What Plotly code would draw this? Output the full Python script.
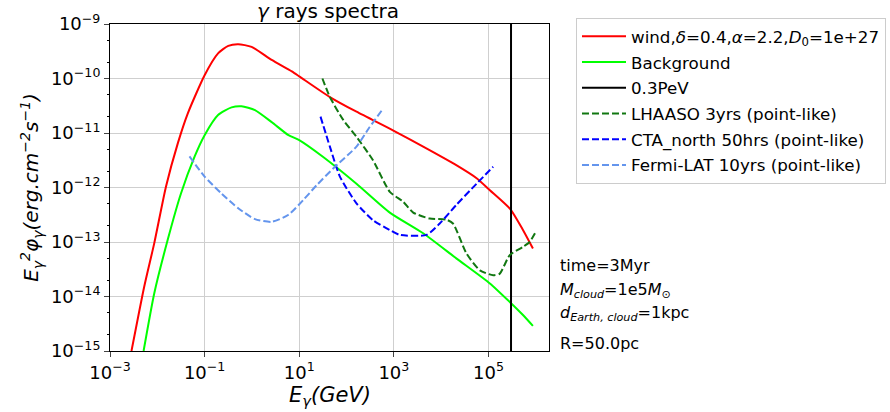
import plotly.graph_objects as go

# log10(E/GeV), log10(E^2 phi)
wind_logE = [-2.546, -2.277, -2.064, -1.816, -1.567, -1.355, -1.0, -0.716, -0.50, -0.29, -0.007, 0.418, 0.844,
             1.0, 1.648, 2.211, 3.0, 3.62, 4.32, 4.75, 5.03, 5.465, 5.73, 5.94]
wind_logF = [-15.0, -13.82, -13.02, -11.98, -11.19, -10.64, -9.94, -9.54, -9.40, -9.37, -9.42, -9.66, -9.87,
             -9.96, -10.34, -10.61, -10.96, -11.25, -11.59, -11.83, -12.05, -12.40, -12.78, -13.12]

bkg_logE = [-2.29, -2.064, -1.78, -1.50, -1.21, -1.0, -0.716, -0.43, -0.22, 0.064, 0.418, 0.773, 1.0,
            1.507, 2.21, 2.915, 3.62, 4.32, 5.03, 5.45, 5.73, 5.94]
bkg_logF = [-15.0, -13.94, -12.96, -12.11, -11.43, -11.04, -10.67, -10.53, -10.51, -10.58, -10.80, -11.04, -11.13,
            -11.44, -11.93, -12.46, -12.84, -13.30, -13.76, -14.10, -14.34, -14.54]

fermi_logE = [-1.32, -1.0, -0.645, -0.29, 0.064, 0.418, 0.773, 1.085, 1.366, 1.718, 2.21, 2.49, 2.775]
fermi_logF = [-11.43, -11.80, -12.11, -12.38, -12.58, -12.63, -12.50, -12.23, -11.96, -11.65, -11.25, -10.89, -10.55]

cta_logE = [1.45, 1.648, 1.86, 2.21, 2.56, 2.915, 3.127, 3.69, 3.97, 4.32, 4.75, 5.10]
cta_logF = [-10.70, -11.25, -11.80, -12.29, -12.60, -12.78, -12.87, -12.87, -12.66, -12.32, -11.93, -11.62]

lhaaso_logE = [1.49, 1.648, 1.93, 2.21, 2.56, 2.915, 3.197, 3.41, 3.76, 4.11, 4.25, 4.535, 4.82, 5.10, 5.24,
               5.45, 5.73, 5.87, 6.01]
lhaaso_logF = [-10.0, -10.34, -10.76, -11.07, -11.50, -12.08, -12.26, -12.46, -12.57, -12.59, -12.66, -13.21,
               -13.52, -13.61, -13.58, -13.24, -13.09, -13.0, -12.80]

cut_E = [3e5, 3e5]
cut_F = [1e-15, 1e-9]

x_tick_exp = [-3, -1, 1, 3, 5]
y_tick_exp = [-15, -14, -13, -12, -11, -10, -9]

info_lines = ["time=3Myr", "<i>M<sub>cloud</sub></i>=1e5<i>M</i><sub>⊙</sub>",
              "<i>d<sub>Earth, cloud</sub></i>=1kpc", "R=50.0pc"]
info_ypx = [265, 290, 313, 343]


def p(v):
    return [10 ** a for a in v]


def lab(e):
    return "10<sup>" + ("−" + str(-e) if e < 0 else str(e)) + "</sup>"


fig = go.Figure()
series = [
    (wind_logE, wind_logF, "red", "wind,<i>δ</i>=0.4,<i>α</i>=2.2,<i>D</i><sub>0</sub>=1e+27"),
    (bkg_logE, bkg_logF, "#00ff00", "Background"),
]
for i, (xe, ye, c, n) in enumerate(series):
    fig.add_trace(go.Scatter(x=p(xe), y=p(ye), mode="lines",
                             line=dict(color=c, width=2, shape="spline", smoothing=0.6),
                             name=n, legendgroup=f"g{i}"))
fig.add_trace(go.Scatter(x=cut_E, y=cut_F, mode="lines", line=dict(color="black", width=2), name="0.3PeV",
                         legendgroup="g2"))
dashed = [
    (lhaaso_logE, lhaaso_logF, "#117711", "LHAASO 3yrs (point-like)"),
    (cta_logE, cta_logF, "#0000ff", "CTA_north 50hrs (point-like)"),
    (fermi_logE, fermi_logF, "#6495ed", "Fermi-LAT 10yrs (point-like)"),
]
for i, (xe, ye, c, n) in enumerate(dashed):
    fig.add_trace(go.Scatter(x=p(xe), y=p(ye), mode="lines",
                             line=dict(color=c, width=2, dash="7px,3px", shape="spline", smoothing=0.6),
                             name=n, legendgroup=f"g{i + 3}"))

W, H = 890, 412
px_left, px_right, px_top, px_bot = 110, 549, 24, 351   # plot box in page pixels
L, T = px_left, px_top
pw, ph = px_right - px_left, px_bot - px_top
R, B = W - L - pw, H - T - ph

for txt, ypx in zip(info_lines, info_ypx):
    fig.add_annotation(text=txt, xref="paper", yref="paper", x=(558 - px_left) / pw, y=(px_bot - ypx) / ph,
                       xanchor="left", yanchor="middle", showarrow=False, font=dict(size=16, color="black"))

fig.add_annotation(text="<i>E<sub>γ</sub>(GeV)</i>", xref="paper", yref="paper", x=(330 - px_left) / pw,
                   y=-(396 - px_bot) / ph, xanchor="center", yanchor="middle", showarrow=False,
                   font=dict(size=21, color="black"))
fig.add_annotation(text="<i>γ</i> rays spectra", xref="paper", yref="paper", x=(328 - px_left) / pw,
                   y=1 + (px_top - 11) / ph, xanchor="center", yanchor="middle", showarrow=False,
                   font=dict(size=20, color="black"))

fig.update_layout(
    template="none",
    width=W, height=H, margin=dict(l=L, r=R, t=T, b=B, autoexpand=False),
    paper_bgcolor="white", plot_bgcolor="white",
    font=dict(family="DejaVu Sans", color="black"),
    legend=dict(x=(576 - px_left) / pw, y=(px_bot - 18) / ph, xanchor="left", yanchor="top",
                bordercolor="#cccccc", borderwidth=1, font=dict(size=16.7), tracegroupgap=1,
                itemwidth=44, bgcolor="white"),
    showlegend=True,
)
fig.update_xaxes(type="log", range=[-3, 6.28], tickvals=[10.0 ** e for e in x_tick_exp],
                 ticktext=[lab(e) for e in x_tick_exp], showline=True, linecolor="black",
                 linewidth=1, mirror=True, ticks="outside", ticklen=5, showgrid=True, gridcolor="#cfcfcf",
                 gridwidth=1, tickfont=dict(size=18), automargin=False, zeroline=False)
fig.update_yaxes(type="log", range=[-15, -9], tickvals=[10.0 ** e for e in y_tick_exp],
                 ticktext=[lab(e) for e in y_tick_exp], showline=True, linecolor="black",
                 linewidth=1, mirror=True, ticks="outside", ticklen=5, showgrid=True, gridcolor="#cfcfcf",
                 gridwidth=1, tickfont=dict(size=18), automargin=False,
                 minor=dict(ticks="outside", ticklen=2, showgrid=False, tickcolor="black"),
                 title=dict(text="<i>E<sub>γ</sub><sup>2</sup>φ<sub>γ</sub>(erg.cm<sup>−2</sup>s<sup>−1</sup>)</i>",
                            font=dict(size=20), standoff=6), zeroline=False)

fig.write_html("out.html", config={"displayModeBar": False},
               post_script="document.body.style.margin='0px';")
